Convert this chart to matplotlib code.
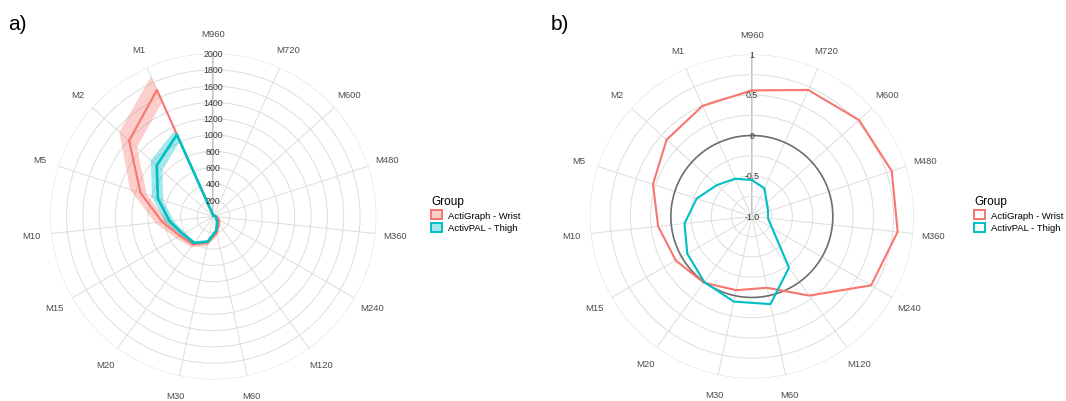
import numpy as np
import matplotlib
matplotlib.use('Agg')
import matplotlib.pyplot as plt
from matplotlib.patches import Patch
from matplotlib.colors import to_rgba

plt.rcParams['font.family'] = ['Liberation Sans', 'DejaVu Sans']

# categories clockwise from the top
categories = ['M960', 'M720', 'M600', 'M480', 'M360', 'M240', 'M120', 'M60',
              'M30', 'M20', 'M15', 'M10', 'M5', 'M2', 'M1']

# panel a) - values with ribbons
wrist_mean = [10, 10, 20, 30, 45, 80, 115, 205, 330, 425, 475, 630, 940, 1390, 1700]
wrist_lo = [5, 5, 12, 20, 30, 60, 95, 180, 300, 395, 430, 560, 860, 1270, 1550]
wrist_hi = [15, 15, 28, 40, 60, 100, 135, 230, 360, 460, 530, 720, 1080, 1560, 1890]
thigh_mean = [10, 10, 15, 20, 30, 40, 80, 175, 313, 400, 430, 540, 715, 935, 1100]
thigh_lo = [5, 5, 10, 14, 22, 30, 68, 160, 295, 380, 400, 490, 650, 850, 1020]
thigh_hi = [15, 15, 20, 26, 38, 50, 92, 190, 335, 425, 470, 600, 800, 1040, 1170]
a_ticks = [200, 400, 600, 800, 1000, 1200, 1400, 1600, 1800, 2000]

# panel b)
wrist_b = [0.556, 0.71, 0.78, 0.816, 0.81, 0.70, 0.207, -0.10, -0.07, 0.01,
           0.085, 0.163, 0.284, 0.416, 0.495]
thigh_b = [-0.55, -0.62, -0.75, -0.79, -0.80, -0.71, -0.22, 0.106, 0.074, 0.0,
           -0.08, -0.164, -0.284, -0.42, -0.49]
b_ticks = [-1.0, -0.5, 0, 0.5, 1]
b_tick_labels = ['-1.0', '-0.5', '0', '0.5', '1']

groups = ['ActiGraph - Wrist', 'ActivPAL - Thigh']
RED = '#F8766D'
TEAL = '#00BFC4'
TXT = '#4D4D4D'

angles = np.linspace(0, 2 * np.pi, len(categories), endpoint=False)
theta = np.append(angles, 2 * np.pi)


def closed(values):
    values = np.asarray(values, dtype=float)
    return np.append(values, values[0])


def setup_radar(ax, rmin, rmax, rings):
    ax.set_theta_zero_location('N')
    ax.set_theta_direction(-1)
    ax.set_ylim(rmin, rmax)
    ax.set_xticks(angles)
    ax.set_xticklabels([])
    ax.set_yticks(rings)
    ax.set_yticklabels([])
    ax.tick_params(length=0)
    ax.grid(color='#DDDDDD', linewidth=0.7)
    ax.spines['polar'].set_visible(False)
    ax.set_facecolor('white')
    # radial axis line
    ax.plot([0, 0], [rmin, rmax], color='#BDBDBD', lw=1.3, zorder=1)
    label_r = rmin + (rmax - rmin) * 1.122
    for ang, cat in zip(angles, categories):
        ax.text(ang, label_r, cat, ha='center', va='center',
                fontsize=6.8, color=TXT)


def add_legend(fig, x, y, filled):
    handles = []
    for name, col in zip(groups, [RED, TEAL]):
        face = to_rgba(col, 0.35) if filled else 'white'
        handles.append(Patch(facecolor=face, edgecolor=col, lw=1.4, label=name))
    fig.legend(handles=handles, title='Group', loc='upper left',
               bbox_to_anchor=(x, y), frameon=False, fontsize=6.8,
               title_fontsize=8.5, alignment='left', handlelength=1.15,
               handleheight=1.15, handletextpad=0.7, labelspacing=0.3,
               borderaxespad=0, borderpad=0)


def main():
    fig = plt.figure(figsize=(10.66, 4.02), dpi=100)

    # a)
    ax1 = fig.add_axes([0.0472, 0.0535, 0.3058, 0.811], projection='polar')
    setup_radar(ax1, 0, 2000, a_ticks)
    ax1.fill_between(theta, closed(wrist_lo), closed(wrist_hi),
                     color=RED, alpha=0.35, lw=0, zorder=2)
    ax1.fill_between(theta, closed(thigh_lo), closed(thigh_hi),
                     color=TEAL, alpha=0.35, lw=0, zorder=2)
    ax1.plot(theta, closed(wrist_mean), color=RED, lw=1.5, zorder=3)
    ax1.plot(theta, closed(thigh_mean), color=TEAL, lw=1.9, zorder=4)
    for t in a_ticks:
        ax1.text(0, t, str(t), ha='center', va='center', fontsize=6.3,
                 color='#333333', zorder=5)

    # b)
    ax2 = fig.add_axes([0.5533, 0.056, 0.304, 0.806], projection='polar')
    setup_radar(ax2, -1, 1, np.arange(-0.75, 1.01, 0.25))
    ring = np.linspace(0, 2 * np.pi, 300)
    ax2.plot(ring, np.zeros_like(ring), color='#6E6E6E', lw=1.2, zorder=2)
    ax2.plot(theta, closed(wrist_b), color=RED, lw=1.5, zorder=3)
    ax2.plot(theta, closed(thigh_b), color=TEAL, lw=1.5, zorder=3)
    for t, lab in zip(b_ticks, b_tick_labels):
        ax2.text(0, t, lab, ha='center', va='center', fontsize=6.3,
                 color='#333333', zorder=5)

    fig.text(0.008, 0.94, 'a)', fontsize=15, va='center')
    fig.text(0.517, 0.94, 'b)', fontsize=15, va='center')

    add_legend(fig, 431 / 1066, 1 - 196 / 402, True)
    add_legend(fig, 974 / 1066, 1 - 196 / 402, False)

    fig.savefig('out.png', dpi=100)


if __name__ == "__main__":
    main()
